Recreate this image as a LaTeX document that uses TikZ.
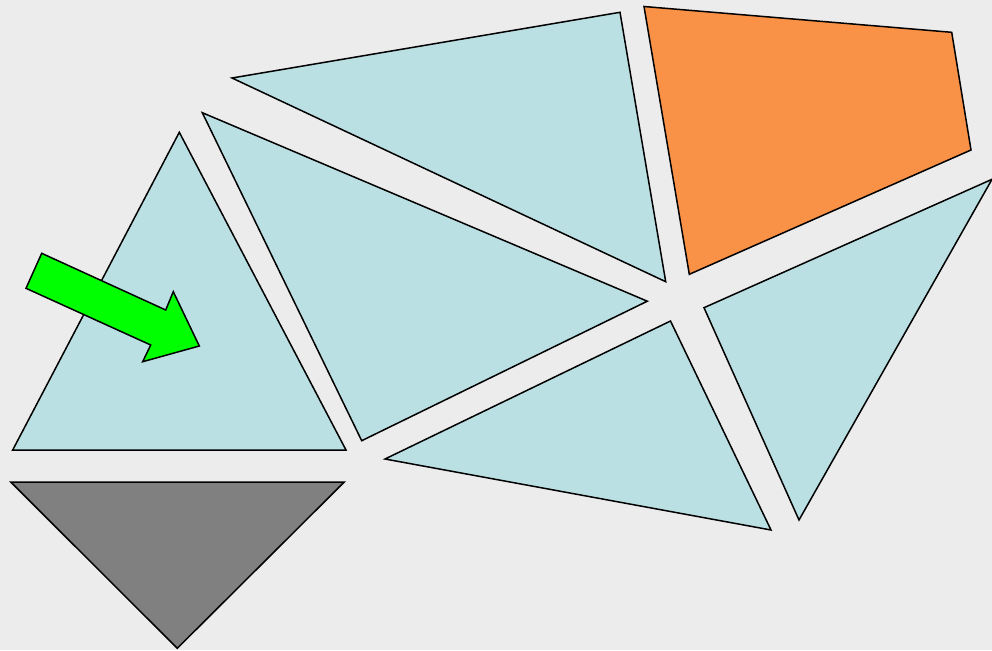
\documentclass[tikz,border=0pt]{standalone}
\definecolor{bg}{HTML}{ECECEC}
\definecolor{tri}{HTML}{BBE0E3}
\definecolor{orng}{HTML}{F99146}
\definecolor{grayf}{HTML}{808080}
\definecolor{grn}{HTML}{00FF00}
\begin{document}
\begin{tikzpicture}[x=1pt,y=-1pt,
  polyshape/.style={draw=black,line width=1.5pt,line join=miter}]
\fill[bg] (0,0) rectangle (992,650);
\useasboundingbox (0,0) rectangle (992,650);
% top triangle
\filldraw[polyshape,fill=tri] (232,78) -- (620,12.3) -- (665.7,281.7) -- cycle;
% orange quadrilateral
\filldraw[polyshape,fill=orng] (644,6.5) -- (951.7,32.3) -- (971,150) -- (689.3,274.3) -- cycle;
% middle big triangle
\filldraw[polyshape,fill=tri] (202.3,112.7) -- (647.3,301.2) -- (361.7,440.7) -- cycle;
% left triangle
\filldraw[polyshape,fill=tri] (179.3,132.3) -- (12.7,450) -- (346,450) -- cycle;
% gray inverted triangle
\filldraw[polyshape,fill=grayf] (10.7,482) -- (344.3,482) -- (177.3,648.3) -- cycle;
% bottom middle triangle
\filldraw[polyshape,fill=tri] (670.5,321) -- (385,459) -- (771,530) -- cycle;
% right triangle
\filldraw[polyshape,fill=tri] (992,179.3) -- (704,307.7) -- (799,520) -- cycle;
% green arrow
\filldraw[polyshape,fill=grn] (41.7,253.3) -- (165.7,310) -- (173.3,291.7) -- (199.3,346) -- (142.7,361.7) -- (150.7,345) -- (26,288.3) -- cycle;
\end{tikzpicture}
\end{document}
